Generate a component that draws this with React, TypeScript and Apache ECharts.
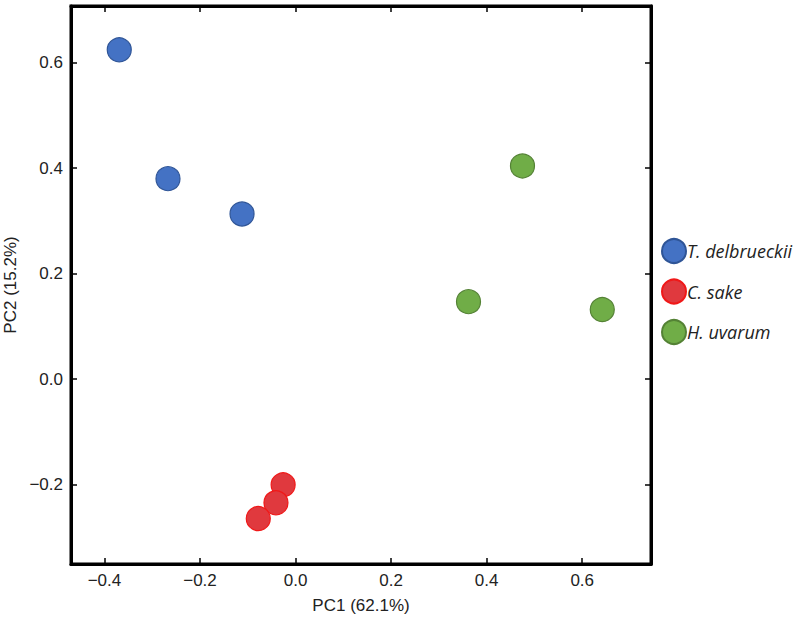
import React, { useEffect, useRef } from "react";
import * as echarts from "echarts";

const seriesNames = ["T. delbrueckii", "C. sake", "H. uvarum"];
const tDelbrueckii: [number, number][] = [
  [-0.369, 0.624],
  [-0.267, 0.38],
  [-0.112, 0.313],
];
const cSake: [number, number][] = [
  [-0.026, -0.2],
  [-0.041, -0.234],
  [-0.078, -0.264],
];
const hUvarum: [number, number][] = [
  [0.475, 0.404],
  [0.362, 0.147],
  [0.642, 0.132],
];
const xTicks = [-0.4, -0.2, 0.0, 0.2, 0.4, 0.6];
const yTicks = [-0.2, 0.0, 0.2, 0.4, 0.6];
const fills = ["#4472C4", "#E0393E", "#70AD47"];
const borders = ["#2F5597", "#F01818", "#548235"];

const fmt = (v: number) => {
  const s = Math.abs(v).toFixed(1);
  return v < -1e-9 ? "\u2212" + s : s;
};

export default function App() {
  const ref = useRef<HTMLDivElement>(null);
  useEffect(() => {
    if (!ref.current) return;
    const chart = echarts.init(ref.current, null, { renderer: "svg" });
    const xRange = { min: -0.47, max: 0.744 };
    const yRange = { min: -0.35, max: 0.707 };
    const tickStyle = { show: true, inside: true, length: 6, lineStyle: { color: "#000", width: 1.5 } };
    const labelStyle = { fontFamily: "'Liberation Sans', Arial, sans-serif", fontSize: 17, color: "#222" };
    const data = [tDelbrueckii, cSake, hUvarum];
    chart.setOption({
      animation: false,
      grid: {
        left: 71,
        right: 149,
        top: 6,
        bottom: 54,
        show: true,
        containLabel: false,
        outerBoundsMode: "none",
        borderColor: "#000",
        borderWidth: 3,
        backgroundColor: "#fff",
      },
      legend: {
        orient: "vertical",
        left: 656,
        top: 233,
        itemWidth: 24,
        itemHeight: 24,
        itemGap: 14.5,
        icon: "circle",
        textStyle: {
          fontFamily: "'Open Sans', 'Noto Sans', sans-serif",
          fontStyle: "italic",
          fontSize: 18,
          lineHeight: 24,
          color: "#222",
          padding: [0, 0, 0, -4],
        },
        data: seriesNames,
      },
      xAxis: [
        {
          type: "value",
          ...xRange,
          name: "PC1 (62.1%)",
          nameLocation: "middle",
          nameGap: 33,
          nameTextStyle: { ...labelStyle },
          splitLine: { show: false },
          axisLine: { show: true, onZero: false, lineStyle: { color: "#000", width: 3 } },
          axisTick: { ...tickStyle, customValues: xTicks },
          axisLabel: { ...labelStyle, margin: 8, customValues: xTicks, formatter: (v: number) => fmt(v) },
        },
        {
          type: "value",
          ...xRange,
          position: "top",
          splitLine: { show: false },
          axisLine: { show: true, onZero: false, lineStyle: { color: "#000", width: 3 } },
          axisTick: { ...tickStyle, customValues: xTicks },
          axisLabel: { show: false },
        },
      ],
      yAxis: [
        {
          type: "value",
          ...yRange,
          name: "PC2 (15.2%)",
          nameLocation: "middle",
          nameGap: 42,
          nameTextStyle: { ...labelStyle },
          splitLine: { show: false },
          axisLine: { show: true, onZero: false, lineStyle: { color: "#000", width: 3 } },
          axisTick: { ...tickStyle, customValues: yTicks },
          axisLabel: { ...labelStyle, margin: 8, customValues: yTicks, formatter: (v: number) => fmt(v) },
        },
        {
          type: "value",
          ...yRange,
          position: "right",
          splitLine: { show: false },
          axisLine: { show: true, onZero: false, lineStyle: { color: "#000", width: 3 } },
          axisTick: { ...tickStyle, customValues: yTicks },
          axisLabel: { show: false },
        },
      ],
      series: seriesNames.map((name, i) => ({
        name,
        type: "scatter",
        xAxisIndex: 0,
        yAxisIndex: 0,
        symbol: "circle",
        symbolSize: 24,
        itemStyle: { color: fills[i], borderColor: borders[i], borderWidth: 1.2, opacity: 1 },
        data: data[i],
      })),
    });
    return () => chart.dispose();
  }, []);
  return <div ref={ref} style={{ width: 800, height: 618, position: "absolute", left: 0, top: 0 }} />;
}
